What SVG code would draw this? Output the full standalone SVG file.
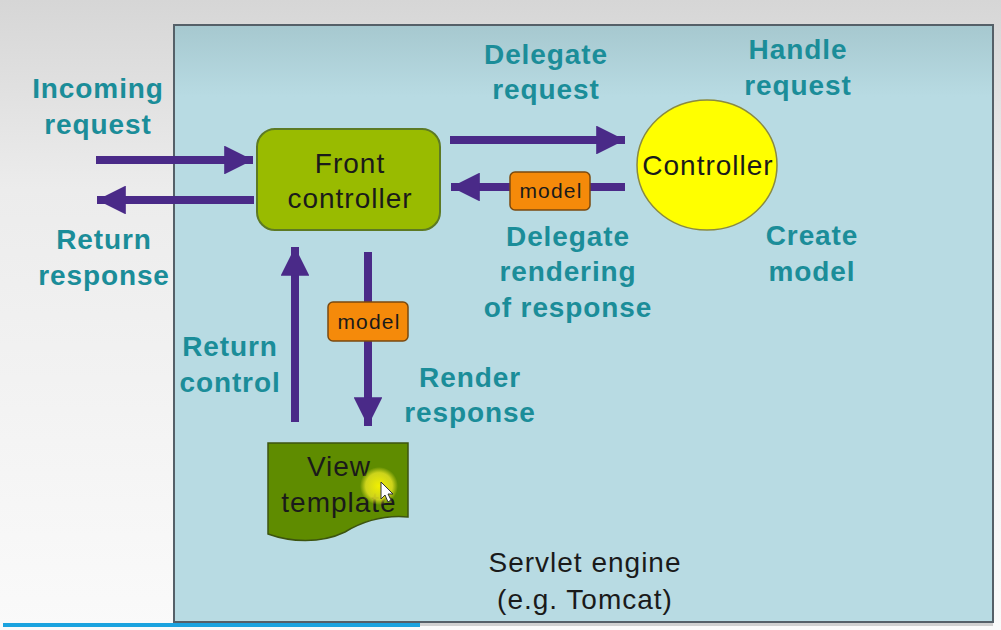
<svg xmlns="http://www.w3.org/2000/svg" width="1001" height="630" viewBox="0 0 1001 630">
<defs>
<linearGradient id="bg" x1="0" y1="0" x2="0" y2="1">
<stop offset="0" stop-color="#d6d6d6"/><stop offset="0.3" stop-color="#ececec"/><stop offset="1" stop-color="#fafafa"/>
</linearGradient>
<linearGradient id="panel" x1="0" y1="0" x2="0" y2="1">
<stop offset="0" stop-color="#a6c8cf"/><stop offset="0.12" stop-color="#b8dbe3"/><stop offset="1" stop-color="#b8dbe3"/>
</linearGradient>
<radialGradient id="glow"><stop offset="0" stop-color="#f2f000"/><stop offset="0.7" stop-color="#e0e020" stop-opacity="0.85"/><stop offset="1" stop-color="#e0e020" stop-opacity="0"/></radialGradient>
<marker id="ah" viewBox="0 0 10 10" refX="10" refY="5" markerWidth="3.6" markerHeight="3.6" orient="auto" markerUnits="strokeWidth">
<path d="M0,0 L10,5 L0,10 z" fill="#4a2a88"/>
</marker>
</defs>
<style>
.lbl{font-family:"Liberation Sans",Arial,sans-serif;font-weight:bold;font-size:28px;letter-spacing:0.9px;fill:#1b8d99;text-anchor:middle}
.txt{font-family:"Liberation Sans",Arial,sans-serif;font-size:28px;letter-spacing:1px;fill:#1a1a1a;text-anchor:middle}
.sm{font-family:"Liberation Sans",Arial,sans-serif;font-size:21px;letter-spacing:1.2px;fill:#1a1a1a;text-anchor:middle}
.arr{stroke:#4a2a88;stroke-width:8;fill:none;marker-end:url(#ah)}
.model{fill:#f58a0a;stroke:#7a4a10;stroke-width:1.5}
</style>
<rect x="0" y="0" width="1001" height="630" fill="url(#bg)"/>
<rect x="174" y="25" width="819" height="597" fill="url(#panel)" stroke="#556068" stroke-width="2"/>
<rect x="3" y="623" width="417" height="4" fill="#1ba3df"/>
<rect x="420" y="623" width="573" height="3" fill="#d0d0d0"/>

<g id="connectors">
<line class="arr" x1="96" y1="160" x2="253" y2="160"/>
<line class="arr" x1="254" y1="200" x2="97" y2="200"/>
<line class="arr" x1="450" y1="140" x2="625" y2="140"/>
<line class="arr" x1="625" y1="187" x2="451" y2="187"/>
<line class="arr" x1="295" y1="422" x2="295" y2="247"/>
<line class="arr" x1="368" y1="252" x2="368" y2="426"/>
</g>

<g id="incoming-label"><text class="lbl" x="98" y="98">Incoming</text><text class="lbl" x="98" y="134">request</text></g>
<g id="return-response-label"><text class="lbl" x="104" y="249">Return</text><text class="lbl" x="104" y="285">response</text></g>
<g id="delegate-request-label"><text class="lbl" x="546" y="64">Delegate</text><text class="lbl" x="546" y="99">request</text></g>
<g id="handle-request-label"><text class="lbl" x="798" y="59">Handle</text><text class="lbl" x="798" y="95">request</text></g>
<g id="delegate-rendering-label"><text class="lbl" x="568" y="246">Delegate</text><text class="lbl" x="568" y="281">rendering</text><text class="lbl" x="568" y="317">of response</text></g>
<g id="create-model-label"><text class="lbl" x="812" y="245">Create</text><text class="lbl" x="812" y="281">model</text></g>
<g id="return-control-label"><text class="lbl" x="230" y="356">Return</text><text class="lbl" x="230" y="392">control</text></g>
<g id="render-response-label"><text class="lbl" x="470" y="387">Render</text><text class="lbl" x="470" y="422">response</text></g>

<g id="front-controller">
<rect x="257" y="129" width="183" height="101" rx="18" fill="#99bb00" stroke="#5d7a24" stroke-width="2"/>
<text class="txt" x="350" y="173">Front</text><text class="txt" x="350" y="208">controller</text>
</g>

<g id="controller">
<ellipse cx="707" cy="165" rx="70" ry="65" fill="#ffff00" stroke="#8a8a40" stroke-width="1.5"/>
<text class="txt" x="708" y="175">Controller</text>
</g>

<g id="model-1">
<rect class="model" x="510" y="172" width="80" height="38" rx="5"/>
<text class="sm" x="551" y="198">model</text>
</g>

<g id="model-2">
<rect class="model" x="328" y="302" width="80" height="39" rx="5"/>
<text class="sm" x="369" y="329">model</text>
</g>

<g id="view-template">
<path d="M268,443 L408,443 L408,517 C385,515 365,520 345,532 C320,544 290,542 268,534 Z" fill="#5f8c00" stroke="#3c5410" stroke-width="1.5"/>
<text class="txt" x="339" y="476">View</text><text class="txt" x="339" y="512">template</text>
</g>

<g id="servlet-engine">
<text class="txt" x="585" y="572">Servlet engine</text><text class="txt" x="585" y="609">(e.g. Tomcat)</text>
</g>

<g id="cursor">
<circle cx="379" cy="486" r="19" fill="url(#glow)"/>
<path d="M381,482 L381,499 L385,495 L388,502 L391,500 L388,494 L393,494 Z" fill="#ffffff" stroke="#333" stroke-width="1"/>
</g>
</svg>
